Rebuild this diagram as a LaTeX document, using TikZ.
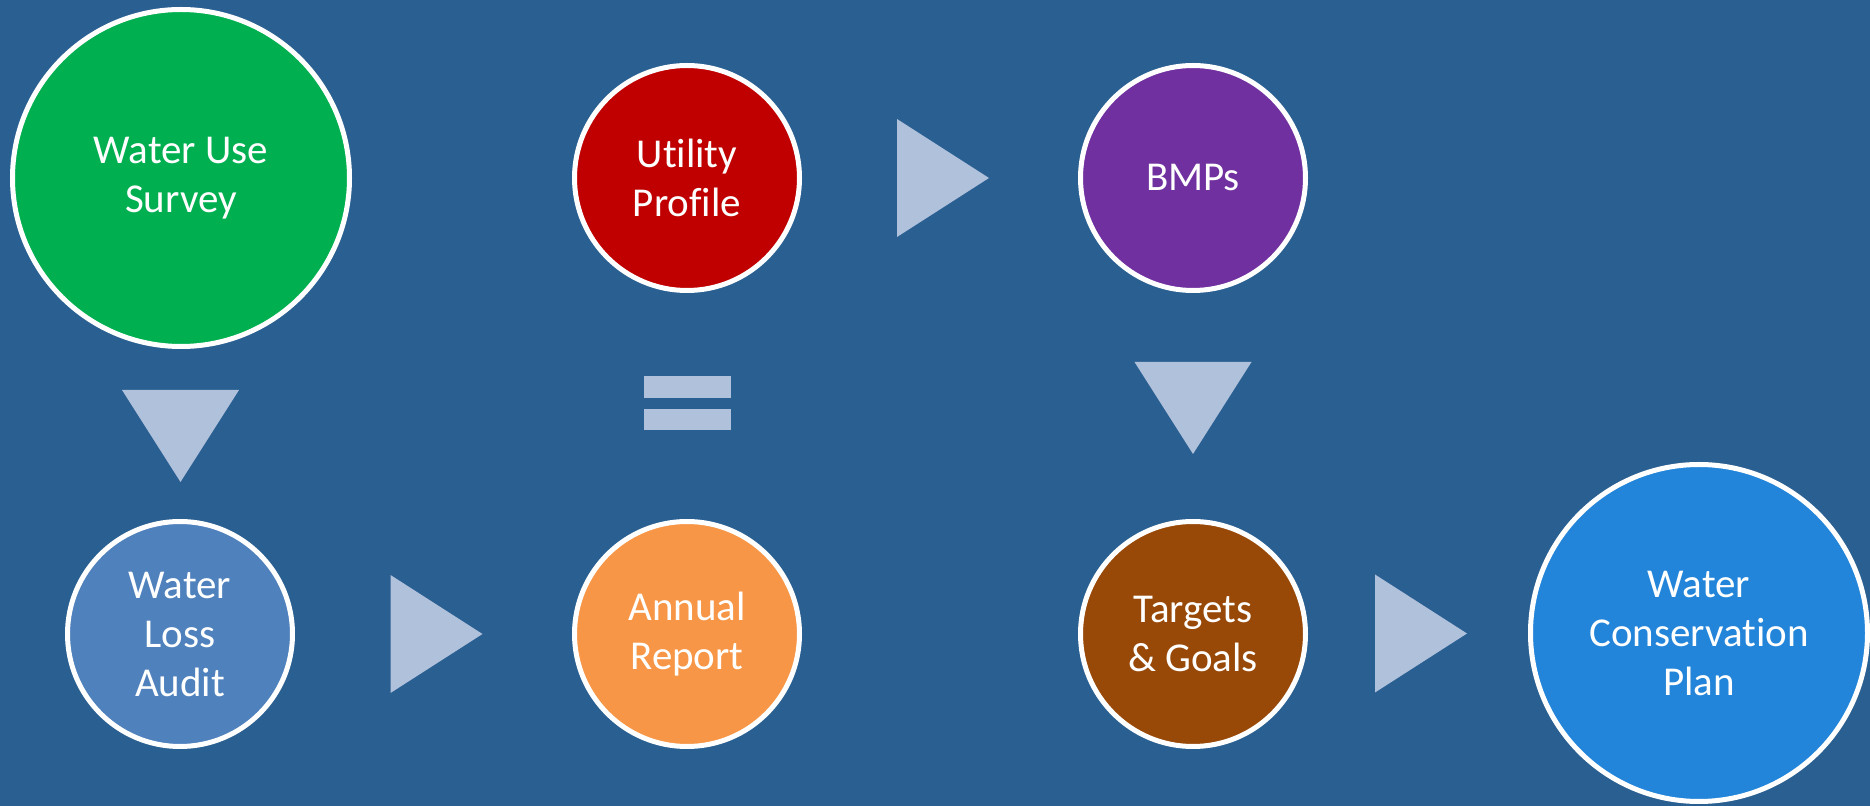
\documentclass[tikz,border=0pt]{standalone}
\usepackage{fontspec}
\setmainfont[Ligatures=NoCommon]{Carlito}
\usetikzlibrary{positioning,calc}
\definecolor{bgblue}{RGB}{42,95,145}
\definecolor{pointerblue}{RGB}{176,193,220}
\definecolor{surveygreen}{RGB}{0,176,80}
\definecolor{profilered}{RGB}{192,0,0}
\definecolor{bmppurple}{RGB}{112,48,160}
\definecolor{auditblue}{RGB}{79,129,189}
\definecolor{reportorange}{RGB}{247,150,70}
\definecolor{goalbrown}{RGB}{152,72,7}
\definecolor{planblue}{RGB}{35,133,217}
\newcommand\RightTri[2]{%
  \fill[pointer] ($(#1.east)!0.5!(#2.west)$) ++(-43,-59) -- ++(92,59) -- ++(-92,59) -- cycle;
}
\newcommand\DownTri[2]{%
  \fill[pointer] ($(#1.south)!0.5!(#2.north)$) ++(-58.5,-44) -- ++(117,0) -- ++(-58.5,92) -- cycle;
}
\tikzset{%
  stage/.style={circle,draw=white,line width=2.5pt,text=white,align=center,
    inner sep=0pt,font=\fontsize{20.5}{24.5}\selectfont},
  small stage/.style={stage,minimum size=112.5pt},
  big stage/.style={stage,minimum size=168.5pt},
  pointer/.style={fill=pointerblue}
}
\begin{document}
\begin{tikzpicture}[x=0.5pt,y=-0.5pt]
\fill[bgblue] (0,0) rectangle (1870,806);

% top row
\node[big stage,fill=surveygreen] (survey) at (181,178) {Water Use\\Survey};
\node[small stage,fill=profilered] (profile) at (687,178) {Utility\\Profile};
\node[small stage,fill=bmppurple] (bmps) at (1193,178) {BMPs};

% bottom row
\node[small stage,fill=auditblue] (audit) at (180,634) {Water\\Loss\\Audit};
\node[small stage,fill=reportorange] (report) at (687,634) {Annual\\Report};
\node[small stage,fill=goalbrown] (goals) at (1193,634) {Targets\\\& Goals};
\node[big stage,fill=planblue] (plan) at (1699,633) {Water\\Conservation\\Plan};

% pointers
\RightTri{profile}{bmps}
\RightTri{audit}{report}
\RightTri{goals}{plan}
\DownTri{survey}{audit}
\DownTri{bmps}{goals}

% equals sign
\coordinate (eq) at ($(profile.south)!0.5!(report.north)$);
\fill[pointer] (eq) ++(-43.5,-30) rectangle ++(87,22);
\fill[pointer] (eq) ++(-43.5,3) rectangle ++(87,21);
\end{tikzpicture}
\end{document}
